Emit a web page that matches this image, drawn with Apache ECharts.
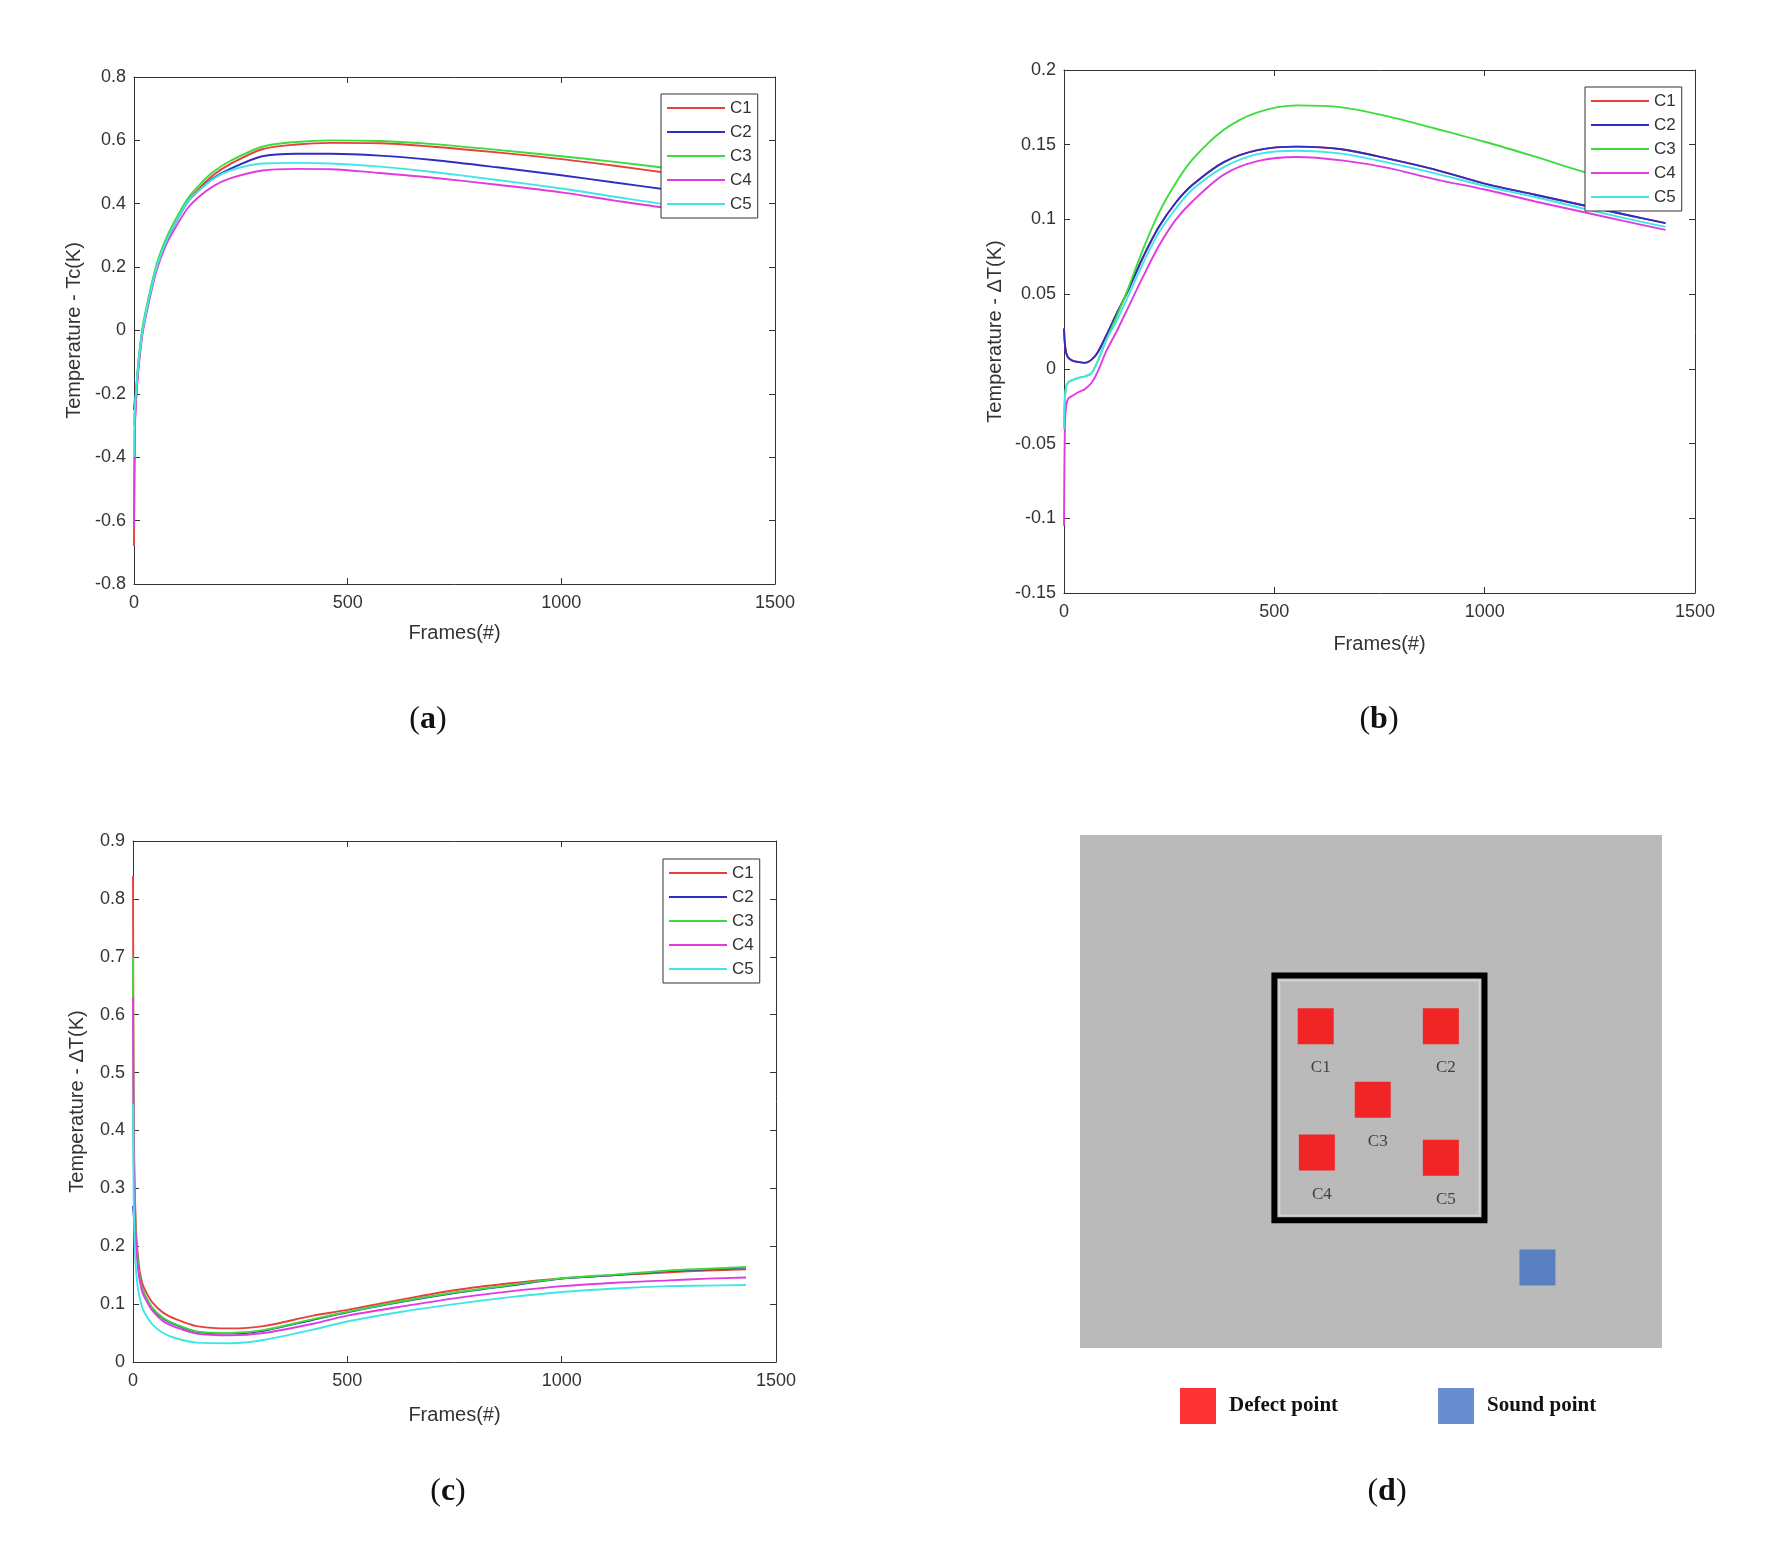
<!DOCTYPE html>
<html>
<head>
<meta charset="utf-8">
<title>Temperature curves C1-C5</title>
<script src="https://cdn.jsdelivr.net/npm/echarts@6.0.0/dist/echarts.min.js"></script>
<style>
  html, body { margin: 0; padding: 0; background: #fff; }
  #chart { width: 1779px; height: 1544px; }
</style>
</head>
<body>
<div id="chart"></div>
<script>
// values
const names = ['C1', 'C2', 'C3', 'C4', 'C5'];
const colors = ['#e8413b', '#2e2ec4', '#3ddc3d', '#e03be0', '#40e6e6'];

// (a) Temperature - Tc(K)
const framesA = [0, 2, 5, 10, 20, 35, 53, 75, 95, 125, 150, 185, 225, 300, 380, 460, 575, 700, 850, 1000, 1125, 1250, 1340, 1430];
const aC1 = [-0.68, -0.3, -0.21, -0.12, 0.0, 0.1, 0.2, 0.28, 0.335, 0.405, 0.445, 0.49, 0.525, 0.572, 0.587, 0.592, 0.591, 0.58, 0.562, 0.541, 0.52, 0.497, 0.482, 0.466];
const aC2 = [-0.25, -0.22, -0.19, -0.11, 0.0, 0.1, 0.2, 0.28, 0.335, 0.405, 0.44, 0.48, 0.51, 0.55, 0.558, 0.558, 0.552, 0.538, 0.515, 0.49, 0.467, 0.444, 0.428, 0.412];
const aC3 = [-0.3, -0.24, -0.19, -0.1, 0.01, 0.11, 0.21, 0.29, 0.345, 0.415, 0.455, 0.5, 0.535, 0.58, 0.595, 0.6, 0.598, 0.588, 0.57, 0.55, 0.532, 0.512, 0.498, 0.484];
const aC4 = [-0.62, -0.32, -0.22, -0.13, -0.01, 0.09, 0.19, 0.27, 0.32, 0.385, 0.42, 0.455, 0.48, 0.505, 0.51, 0.509, 0.497, 0.482, 0.46, 0.436, 0.41, 0.386, 0.374, 0.364];
const aC5 = [-0.4, -0.25, -0.19, -0.11, 0.0, 0.1, 0.2, 0.28, 0.335, 0.405, 0.44, 0.478, 0.505, 0.527, 0.529, 0.527, 0.517, 0.5, 0.475, 0.448, 0.422, 0.397, 0.386, 0.376];

// (b) Temperature - ΔT(K)
const framesB = [0, 2, 5, 10, 20, 35, 50, 65, 80, 100, 125, 150, 185, 225, 265, 305, 380, 460, 555, 660, 770, 880, 1000, 1120, 1234, 1330, 1430];
const bC1 = [0.027, 0.017, 0.011, 0.0075, 0.0055, 0.0045, 0.004, 0.006, 0.011, 0.022, 0.037, 0.051, 0.073, 0.0947, 0.111, 0.123, 0.1384, 0.1464, 0.1487, 0.147, 0.1407, 0.1335, 0.124, 0.1165, 0.1095, 0.1035, 0.0975];
const bC2 = [0.027, 0.017, 0.011, 0.0075, 0.0055, 0.0045, 0.004, 0.006, 0.011, 0.022, 0.037, 0.051, 0.073, 0.0947, 0.111, 0.123, 0.1384, 0.1464, 0.1487, 0.147, 0.1407, 0.1335, 0.124, 0.1165, 0.1095, 0.1035, 0.0975];
const bC3 = [-0.04, -0.02, -0.012, -0.009, -0.0075, -0.006, -0.005, -0.003, 0.005, 0.019, 0.035, 0.052, 0.078, 0.104, 0.124, 0.14, 0.16, 0.1717, 0.1763, 0.175, 0.169, 0.161, 0.152, 0.142, 0.132, 0.126, 0.12];
const bC4 = [-0.105, -0.04, -0.025, -0.02, -0.018, -0.0155, -0.0135, -0.0095, -0.002, 0.0115, 0.025, 0.0395, 0.06, 0.082, 0.0995, 0.112, 0.13, 0.139, 0.1418, 0.1395, 0.1345, 0.127, 0.12, 0.112, 0.105, 0.099, 0.093];
const bC5 = [-0.04, -0.02, -0.012, -0.009, -0.0075, -0.006, -0.005, -0.003, 0.005, 0.019, 0.032, 0.047, 0.069, 0.091, 0.107, 0.12, 0.135, 0.1437, 0.146, 0.144, 0.138, 0.131, 0.1224, 0.115, 0.1073, 0.101, 0.095];

// (c) Temperature - ΔT(K)
const framesC = [0, 1, 2, 4, 6, 8, 12, 16, 22, 31, 45, 70, 100, 148, 226, 304, 420, 500, 620, 750, 880, 1000, 1125, 1250, 1340, 1430];
const cC1 = [0.84, 0.55, 0.4, 0.3, 0.25, 0.215, 0.18, 0.155, 0.135, 0.12, 0.103, 0.0853, 0.074, 0.062, 0.058, 0.062, 0.08, 0.09, 0.107, 0.124, 0.136, 0.1445, 0.15, 0.155, 0.158, 0.16];
const cC2 = [0.27, 0.26, 0.25, 0.235, 0.22, 0.2, 0.168, 0.145, 0.125, 0.11, 0.093, 0.075, 0.064, 0.052, 0.049, 0.054, 0.073, 0.086, 0.103, 0.119, 0.132, 0.144, 0.15, 0.157, 0.16, 0.163];
const cC3 = [0.7, 0.5, 0.37, 0.28, 0.235, 0.205, 0.17, 0.146, 0.126, 0.111, 0.094, 0.0765, 0.065, 0.053, 0.05, 0.055, 0.074, 0.0866, 0.104, 0.12, 0.133, 0.1445, 0.151, 0.158, 0.161, 0.164];
const cC4 = [0.63, 0.45, 0.34, 0.27, 0.225, 0.195, 0.16, 0.14, 0.12, 0.106, 0.089, 0.0706, 0.06, 0.049, 0.046, 0.05, 0.066, 0.08, 0.095, 0.11, 0.122, 0.131, 0.137, 0.141, 0.144, 0.146];
const cC5 = [0.445, 0.33, 0.26, 0.2, 0.17, 0.15, 0.125, 0.11, 0.093, 0.0797, 0.065, 0.05, 0.041, 0.0335, 0.0324, 0.038, 0.056, 0.07, 0.086, 0.1, 0.112, 0.121, 0.127, 0.131, 0.132, 0.133];

// (d) sample layout, in 0-100 units of the grey plate (y from the top)
const defectNames = ['C1', 'C2', 'C3', 'C4', 'C5'];
const defectX = [40.5, 62.0, 50.3, 40.7, 62.0];
const defectY = [37.3, 37.3, 51.6, 61.9, 62.9];
const soundX = [78.6];
const soundY = [84.3];
const boxX = [33.4, 69.5];
const boxY = [27.4, 75.1];

const captionLetters = ['a', 'b', 'c', 'd'];

const FONT = 'Liberation Sans';
const SERIF = 'Liberation Serif';
const INK = '#333';

const panels = [
  { frames: framesA, rows: [aC1, aC2, aC3, aC4, aC5], min: -0.8, max: 0.8, step: 0.2,
    yName: 'Temperature - Tc(K)', grid: { left: 134, top: 77, width: 641, height: 507 },
    yGap: 50, xGap: 39, legend: { left: 661, top: 94 } },
  { frames: framesB, rows: [bC1, bC2, bC3, bC4, bC5], min: -0.15, max: 0.2, step: 0.05,
    yName: 'Temperature - ΔT(K)', grid: { left: 1064, top: 70, width: 631, height: 523 },
    yGap: 59, xGap: 41, legend: { left: 1585, top: 87 } },
  { frames: framesC, rows: [cC1, cC2, cC3, cC4, cC5], min: 0, max: 0.9, step: 0.1,
    yName: 'Temperature - ΔT(K)', grid: { left: 133, top: 841, width: 643, height: 521 },
    yGap: 46, xGap: 43, legend: { left: 663, top: 859 } }
];

const grids = [], xAxes = [], yAxes = [], series = [], legends = [];
const tick = { show: true, inside: true, length: 6, lineStyle: { color: INK } };
const line = { show: true, onZero: false, lineStyle: { color: INK, width: 1 } };
const labelStyle = { fontFamily: FONT, fontSize: 18, color: INK, formatter: (v) => String(v) };

panels.forEach((p, gi) => {
  grids.push(Object.assign({ containLabel: false }, p.grid));
  xAxes.push(
    { type: 'value', gridIndex: gi, position: 'bottom', min: 0, max: 1500, interval: 500,
      axisLine: line, axisTick: tick, splitLine: { show: false },
      axisLabel: Object.assign({ margin: 10 }, labelStyle),
      name: 'Frames(#)', nameLocation: 'middle', nameGap: p.xGap,
      nameTextStyle: { fontFamily: FONT, fontSize: 20, color: INK } },
    { type: 'value', gridIndex: gi, position: 'top', min: 0, max: 1500, interval: 500,
      axisLine: line, axisTick: tick, splitLine: { show: false }, axisLabel: { show: false } }
  );
  yAxes.push(
    { type: 'value', gridIndex: gi, position: 'left', min: p.min, max: p.max, interval: p.step,
      axisLine: line, axisTick: tick, splitLine: { show: false },
      axisLabel: Object.assign({ margin: 8 }, labelStyle),
      name: p.yName, nameLocation: 'middle', nameGap: p.yGap, nameRotate: 90,
      nameTextStyle: { fontFamily: FONT, fontSize: 20, color: INK } },
    { type: 'value', gridIndex: gi, position: 'right', min: p.min, max: p.max, interval: p.step,
      axisLine: line, axisTick: tick, splitLine: { show: false }, axisLabel: { show: false } }
  );
  p.rows.forEach((vals, i) => {
    series.push({
      name: names[i], type: 'line', xAxisIndex: gi * 2, yAxisIndex: gi * 2,
      data: p.frames.map((f, k) => [f, vals[k]]),
      showSymbol: false, smooth: 0.3,
      lineStyle: { color: colors[i], width: 1.9 },
      itemStyle: { color: colors[i] }
    });
  });
  legends.push({
    data: names, orient: 'vertical', left: p.legend.left, top: p.legend.top,
    icon: 'rect', itemWidth: 58, itemHeight: 2, itemGap: 4,
    padding: [4, 6, 4, 6], backgroundColor: '#fff',
    borderColor: INK, borderWidth: 1, borderRadius: 0,
    textStyle: { fontFamily: FONT, fontSize: 17, color: INK, lineHeight: 20 },
    selectedMode: false, z: 10
  });
});

// (d) grey plate with the defect layout
grids.push({ left: 1080, top: 835, width: 582, height: 513, show: true,
  backgroundColor: '#bababa', borderWidth: 0 });
xAxes.push({ type: 'value', gridIndex: 3, min: 0, max: 100, show: false });
yAxes.push({ type: 'value', gridIndex: 3, min: 0, max: 100, inverse: true, show: false });

series.push({
  name: 'Defect point', type: 'scatter', xAxisIndex: 6, yAxisIndex: 6,
  symbol: 'rect', symbolSize: 36, itemStyle: { color: '#ff0000' },
  data: defectNames.map((n, i) => ({ name: n, value: [defectX[i], defectY[i]] })),
  label: { show: true, position: 'bottom', distance: 15, offset: [5, 0], formatter: '{b}',
    fontFamily: SERIF, fontSize: 17, color: '#222' },
  markArea: {
    silent: true,
    data: [
      [{ coord: [boxX[0], boxY[0]], itemStyle: { color: 'rgba(0,0,0,0)', borderColor: '#000', borderWidth: 6 } },
       { coord: [boxX[1], boxY[1]] }],
      [{ coord: [boxX[0] + 0.85, boxY[0] + 0.95], itemStyle: { color: 'rgba(0,0,0,0)', borderColor: '#d2d2d2', borderWidth: 2 } },
       { coord: [boxX[1] - 0.85, boxY[1] - 0.95] }]
    ]
  }
});
series.push({
  name: 'Sound point', type: 'scatter', xAxisIndex: 6, yAxisIndex: 6,
  symbol: 'rect', symbolSize: 36, itemStyle: { color: '#4472c4' },
  data: soundX.map((x, i) => [x, soundY[i]])
});
legends.push({
  data: ['Defect point', 'Sound point'], left: 1175, top: 1383,
  icon: 'rect', itemWidth: 36, itemHeight: 36, itemGap: 100, selectedMode: false,
  textStyle: { fontFamily: SERIF, fontWeight: 'bold', fontSize: 21, color: '#111', padding: [0, 0, 0, 8] }
});

const captionPos = [[428, 720], [1379, 720], [448, 1492], [1387, 1492]];
const graphics = captionLetters.map((ch, i) => ({
  type: 'text', x: captionPos[i][0], y: captionPos[i][1], silent: true,
  style: {
    text: '({b|' + ch + '})', fontFamily: SERIF, fontSize: 32, fill: '#111',
    align: 'center', verticalAlign: 'middle',
    rich: { b: { fontFamily: SERIF, fontSize: 32, fontWeight: 'bold', fill: '#111' } }
  }
}));

const chart = echarts.init(document.getElementById('chart'));
chart.setOption({
  animation: false,
  backgroundColor: '#fff',
  grid: grids,
  xAxis: xAxes,
  yAxis: yAxes,
  legend: legends,
  series: series,
  graphic: graphics
});
window.addEventListener('resize', () => chart.resize());
</script>
</body>
</html>
